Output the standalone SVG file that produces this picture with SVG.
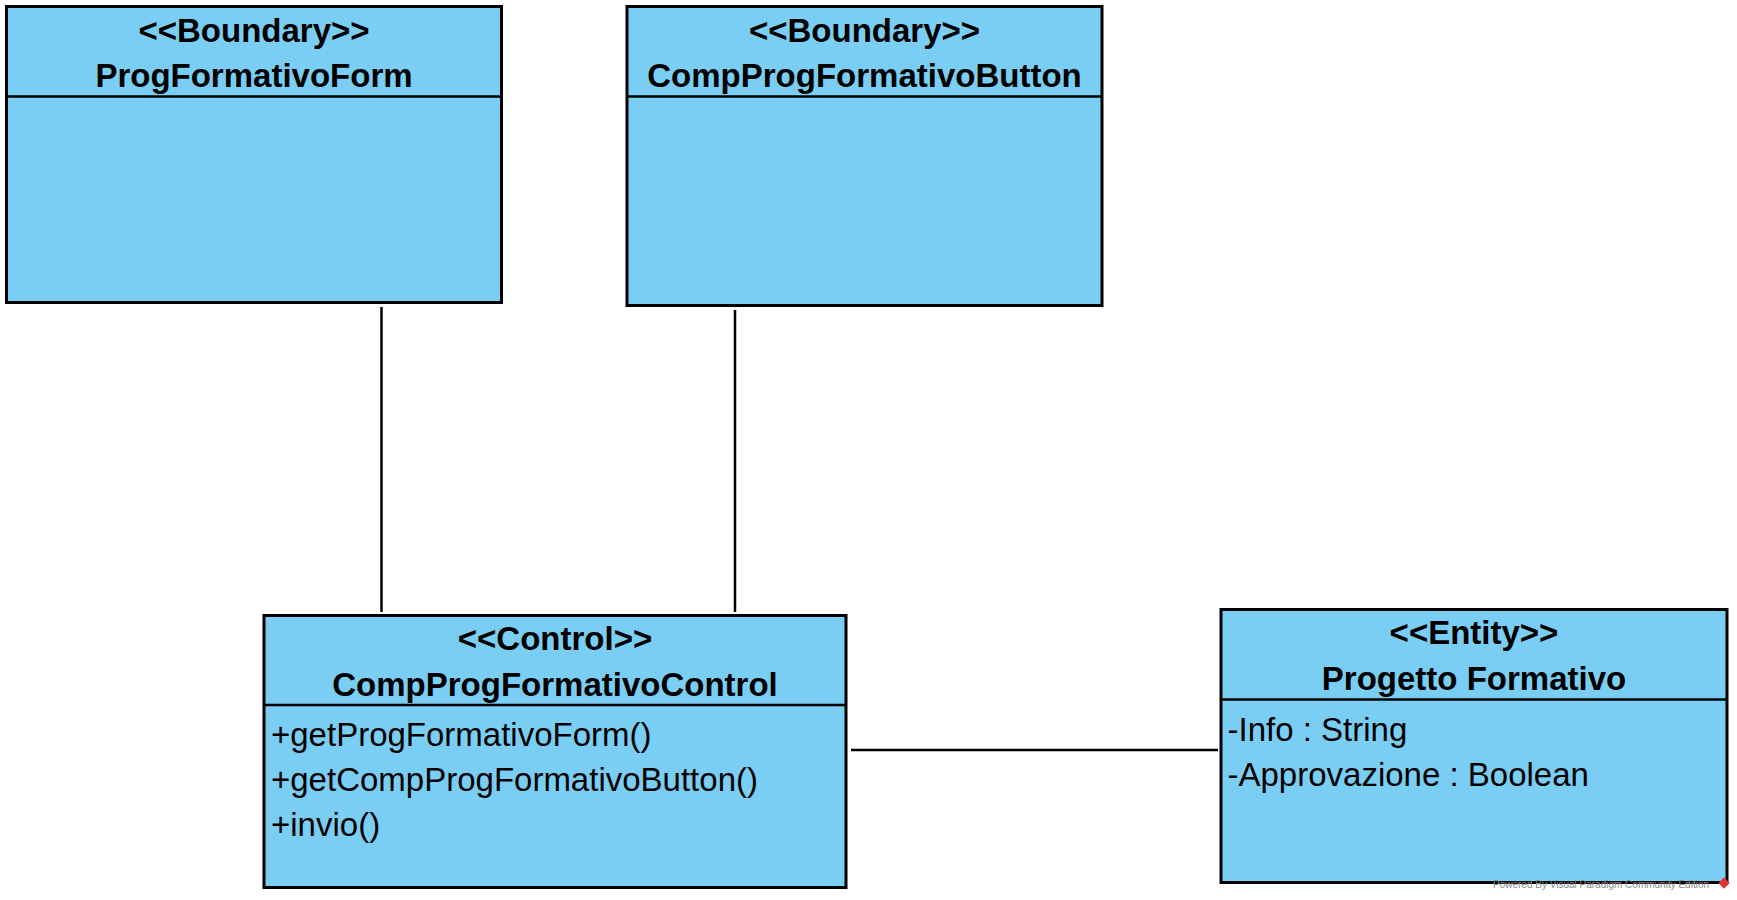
<svg xmlns="http://www.w3.org/2000/svg" width="1737" height="900" viewBox="0 0 1737 900">
<style>
.box{fill:#7ACEF4;stroke:#000;stroke-width:3}
.div{stroke:#000;stroke-width:2.5}
.conn line{stroke:#000;stroke-width:2.5}
.st{font-family:"Liberation Sans",Arial,sans-serif;font-weight:bold;font-size:33px;text-anchor:middle;fill:#000}
.nm{font-family:"Liberation Sans",Arial,sans-serif;font-weight:bold;font-size:33px;text-anchor:middle;fill:#000}
.mb{font-family:"Liberation Sans",Arial,sans-serif;font-size:33px;fill:#000}
.wm{font-family:"Liberation Sans",Arial,sans-serif;font-size:10px;fill:#8a8a8a}
</style>
<rect width="1737" height="900" fill="#fff"/>
<g id="ProgFormativoForm">
<rect class="box" x="6.5" y="6.5" width="495" height="296"/>
<line class="div" x1="6.5" y1="96.5" x2="501.5" y2="96.5"/>
<text class="st" x="254" y="42">&lt;&lt;Boundary&gt;&gt;</text>
<text class="nm" x="254" y="87">ProgFormativoForm</text>
</g>
<g id="CompProgFormativoButton">
<rect class="box" x="627" y="6.5" width="475" height="299"/>
<line class="div" x1="627" y1="96.5" x2="1102" y2="96.5"/>
<text class="st" x="864.5" y="42">&lt;&lt;Boundary&gt;&gt;</text>
<text class="nm" x="864.5" y="87">CompProgFormativoButton</text>
</g>
<g id="CompProgFormativoControl">
<rect class="box" x="264" y="615.5" width="582" height="272"/>
<line class="div" x1="264" y1="705" x2="846" y2="705"/>
<text class="st" x="555" y="650">&lt;&lt;Control&gt;&gt;</text>
<text class="nm" x="555" y="696">CompProgFormativoControl</text>
<text class="mb" x="271" y="746">+getProgFormativoForm()</text>
<text class="mb" x="271" y="790.5">+getCompProgFormativoButton()</text>
<text class="mb" x="271" y="836">+invio()</text>
</g>
<g id="ProgettoFormativo">
<rect class="box" x="1221" y="609.5" width="506" height="273"/>
<line class="div" x1="1221" y1="699.5" x2="1727" y2="699.5"/>
<text class="st" x="1474" y="644">&lt;&lt;Entity&gt;&gt;</text>
<text class="nm" x="1474" y="689.5">Progetto Formativo</text>
<text class="mb" x="1227.5" y="740.5">-Info : String</text>
<text class="mb" x="1227.5" y="785.5">-Approvazione : Boolean</text>
</g>
<g id="connectors" class="conn">
<line x1="381.5" y1="307" x2="381.5" y2="612"/>
<line x1="735" y1="310" x2="735" y2="612"/>
<line x1="851" y1="750" x2="1218" y2="750"/>
</g>
<g id="watermark">
<text class="wm" x="1493" y="888">Powered By Visual Paradigm Community Edition</text>
<rect x="1720" y="879" width="8" height="8" fill="#d33" transform="rotate(45 1724 883)"/>
</g>
</svg>
